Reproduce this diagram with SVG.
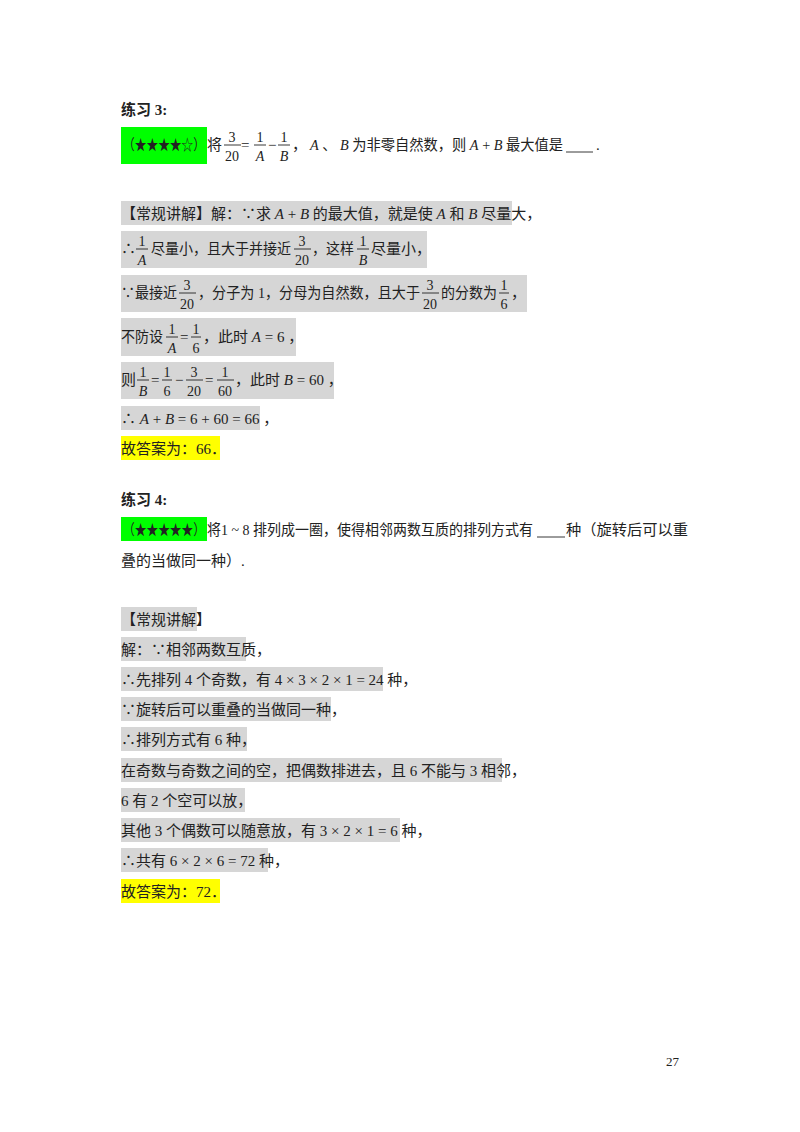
<svg xmlns="http://www.w3.org/2000/svg" width="800" height="1132" viewBox="0 0 800 1132">
<style>
text{font-family:"Liberation Serif","Noto Sans CJK SC",serif;font-size:15px;fill:#222}
.b{font-weight:bold}
.i{font-style:italic}
.f{font-size:14px;text-anchor:middle}
.g{fill:#d6d6d6}
.y{fill:#ffff00}
.gr{fill:#00ff00}
line{stroke:#222;stroke-width:0.9}
</style>
<rect width="800" height="1132" fill="#fff"/>
<text class="b" x="121" y="115">练习 3:</text>
<rect class="gr" x="121" y="127" width="86" height="37"/>
<text x="123" y="150" textLength="82" lengthAdjust="spacingAndGlyphs">（★★★★☆）</text>
<text x="207" y="150">将</text>
<text class="f" x="232" y="142">3</text><line x1="224" y1="145" x2="241" y2="145"/><text class="f" x="232" y="161">20</text>
<text x="241" y="150">=</text>
<text class="f" x="260" y="142">1</text><line x1="254" y1="145" x2="266" y2="145"/><text class="f i" x="260" y="161">A</text>
<text x="268" y="150">−</text>
<text class="f" x="284" y="142">1</text><line x1="278" y1="145" x2="290" y2="145"/><text class="f i" x="284" y="161">B</text>
<text x="292" y="150">，</text>
<text x="310" y="150" textLength="253" lengthAdjust="spacingAndGlyphs"><tspan class="i">A</tspan> 、 <tspan class="i">B</tspan> 为非零自然数，则 <tspan class="i">A</tspan> + <tspan class="i">B</tspan> 最大值是</text>
<line x1="566" y1="152" x2="593" y2="152"/>
<text x="596" y="150">.</text>

<rect class="g" x="121" y="201" width="391" height="24"/>
<text x="121" y="219">【常规讲解】解：∵求 <tspan class="i">A</tspan> + <tspan class="i">B</tspan> 的最大值，就是使 <tspan class="i">A</tspan> 和 <tspan class="i">B</tspan> 尽量大，</text>

<rect class="g" x="121" y="231" width="306" height="37"/>
<text x="121" y="254">∴</text>
<text class="f" x="142" y="246">1</text><line x1="136" y1="249" x2="148" y2="249"/><text class="f i" x="142" y="265">A</text>
<text x="151" y="254" textLength="140" lengthAdjust="spacingAndGlyphs">尽量小，且大于并接近</text>
<text class="f" x="302" y="246">3</text><line x1="294" y1="249" x2="311" y2="249"/><text class="f" x="302" y="265">20</text>
<text x="312" y="254" textLength="42" lengthAdjust="spacingAndGlyphs">，这样</text>
<text class="f" x="363" y="246">1</text><line x1="357" y1="249" x2="369" y2="249"/><text class="f i" x="363" y="265">B</text>
<text x="371" y="254">尽量小，</text>

<rect class="g" x="121" y="275" width="406" height="37"/>
<text x="121" y="298" textLength="56" lengthAdjust="spacingAndGlyphs">∵最接近</text>
<text class="f" x="187" y="290">3</text><line x1="179" y1="293" x2="196" y2="293"/><text class="f" x="187" y="309">20</text>
<text x="198" y="298" textLength="222" lengthAdjust="spacingAndGlyphs">，分子为 1，分母为自然数，且大于</text>
<text class="f" x="430" y="290">3</text><line x1="422" y1="293" x2="439" y2="293"/><text class="f" x="430" y="309">20</text>
<text x="441" y="298" textLength="56" lengthAdjust="spacingAndGlyphs">的分数为</text>
<text class="f" x="504" y="290">1</text><line x1="499" y1="293" x2="509" y2="293"/><text class="f" x="504" y="309">6</text>
<text x="511" y="298">，</text>

<rect class="g" x="121" y="318" width="175" height="38"/>
<text x="121" y="342" textLength="42" lengthAdjust="spacingAndGlyphs">不防设</text>
<text class="f" x="172" y="334">1</text><line x1="166" y1="337" x2="178" y2="337"/><text class="f i" x="172" y="353">A</text>
<text x="180" y="342">=</text>
<text class="f" x="196" y="334">1</text><line x1="191" y1="337" x2="201" y2="337"/><text class="f" x="196" y="353">6</text>
<text x="203" y="342">，此时 <tspan class="i">A</tspan> = 6 ，</text>

<rect class="g" x="121" y="362" width="213" height="37"/>
<text x="121" y="385">则</text>
<text class="f" x="143" y="377">1</text><line x1="137" y1="380" x2="149" y2="380"/><text class="f i" x="143" y="396">B</text>
<text x="151" y="385">=</text>
<text class="f" x="167" y="377">1</text><line x1="162" y1="380" x2="172" y2="380"/><text class="f" x="167" y="396">6</text>
<text x="175" y="385">−</text>
<text class="f" x="194" y="377">3</text><line x1="186" y1="380" x2="203" y2="380"/><text class="f" x="194" y="396">20</text>
<text x="205" y="385">=</text>
<text class="f" x="225" y="377">1</text><line x1="217" y1="380" x2="234" y2="380"/><text class="f" x="225" y="396">60</text>
<text x="235" y="385">，此时 <tspan class="i">B</tspan> = 60 ，</text>

<rect class="g" x="121" y="406" width="139" height="24"/>
<text x="121" y="424">∴ <tspan class="i">A</tspan> + <tspan class="i">B</tspan> = 6 + 60 = 66 ，</text>
<rect class="y" x="121" y="436" width="99" height="24"/>
<text x="121" y="454">故答案为：66．</text>

<text class="b" x="121" y="505">练习 4:</text>
<rect class="gr" x="121" y="517" width="86" height="24"/>
<text x="123" y="535" textLength="82" lengthAdjust="spacingAndGlyphs">（★★★★★）</text>
<text x="207" y="535" textLength="326" lengthAdjust="spacingAndGlyphs">将1 ~ 8 排列成一圈，使得相邻两数互质的排列方式有</text>
<line x1="537" y1="537" x2="565" y2="537"/>
<text x="566" y="535" textLength="122" lengthAdjust="spacingAndGlyphs">种（旋转后可以重</text>
<text x="121" y="566">叠的当做同一种）.</text>

<rect class="g" x="121" y="607" width="76" height="24"/>
<text x="121" y="625">【常规讲解】</text>
<rect class="g" x="121" y="637" width="125" height="24"/>
<text x="121" y="655">解：∵相邻两数互质，</text>
<rect class="g" x="121" y="667" width="262" height="24"/>
<text x="121" y="685">∴先排列 4 个奇数，有 4 × 3 × 2 × 1 = 24 种，</text>
<rect class="g" x="121" y="697" width="210" height="24"/>
<text x="121" y="715">∵旋转后可以重叠的当做同一种，</text>
<rect class="g" x="121" y="727" width="126" height="24"/>
<text x="121" y="745">∴排列方式有 6 种，</text>
<rect class="g" x="121" y="758" width="381" height="24"/>
<text x="121" y="776">在奇数与奇数之间的空，把偶数排进去，且 6 不能与 3 相邻，</text>
<rect class="g" x="121" y="788" width="124" height="24"/>
<text x="121" y="806">6 有 2 个空可以放，</text>
<rect class="g" x="121" y="818" width="279" height="24"/>
<text x="121" y="836">其他 3 个偶数可以随意放，有 3 × 2 × 1 = 6 种，</text>
<rect class="g" x="121" y="848" width="147" height="24"/>
<text x="121" y="866">∴共有 6 × 2 × 6 = 72 种，</text>
<rect class="y" x="121" y="879" width="99" height="24"/>
<text x="121" y="897">故答案为：72．</text>

<text x="666" y="1066" style="font-size:13px">27</text>
</svg>
